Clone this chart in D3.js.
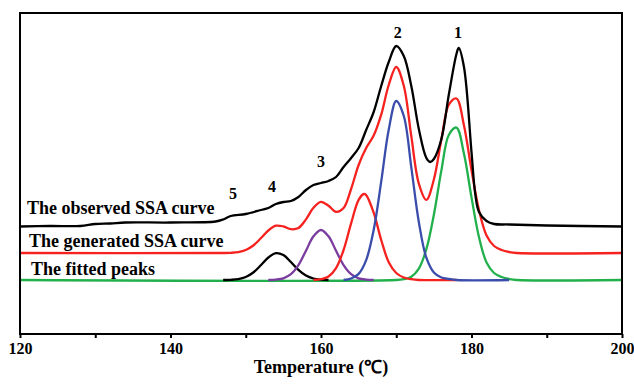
<!DOCTYPE html>
<html>
<head>
<meta charset="utf-8">
<script src="https://cdn.jsdelivr.net/npm/d3@7"></script>
<style>
  body { margin: 0; background: #fff; }
  text { font-family: "Liberation Serif", "Times New Roman", serif; font-weight: bold; fill: #000; }
</style>
</head>
<body>
<div id="chart"></div>
<script>
// temperature (°C), signal (arbitrary units)
const observed = [[120,107.5],[124,108],[128,108],[130,110],[132,110.5],[134,111.5],[140,111.5],[146,112.5],[147,114.5],[148,118],
  [150,120],[152,124],[153,126],[154,130],[155,132],[156,133],[157,137],[158,144],[159,149],[160,151],[161,153],[162,157],
  [163,167],[164,176],[165,186],[166,204],[167,222],[168,248],[169,272],[170,288],[171,278],[172,248],[173,205],[174,176],
  [174.5,172],[175,175],[176,195],[177,240],[178,280],[178.3,286],[179,267],[180,182],[180.5,140],[181,122],[182,113],
  [183,110],[185,109.5],[190,108.5],[200,107.5]]

const generated = [[120,81],[147,81],[148,81.2],[149,81.9],[150,84],[151,88.5],[152,95.7],[153,103.5],[154,108.3],[155,107.6],
  [156,104.8],[157,106],[158,114.6],[159,126.2],[160,132.2],[161,128.2],[162,122.1],[163,125.9],[164,145],[165,169],
  [166,186],[167,198.4],[168,219.3],[169,249],[170,267],[171,248.3],[172,197.8],[173,150.4],[174,134.1],[175,154.5],
  [176,194.5],[177,229.5],[178,235.5],[179,208.5],[180,164],[181,123.7],[182,98.5],[183,88],[184,84],[185,82],[186,81],[200,81]]

// fitted peaks, height above the peak baseline
const peakBase = 54
const peak1 = [[120,0],[170,0],[171,0.8],[172,3.3],[173,11.4],[174,30.8],[175,65.3],[176,109.6],[177,145.3],[178,152.4],
  [179,126.2],[180,82.6],[181,42.7],[182,17.5],[183,7],[184,3],[185,1],[186,0],[200,0]]
const peak2 = [[163,0],[164,1.5],[165,6.1],[166,19.9],[167,50],[168,98.3],[169,150.3],[170,179],[171,164],
  [172,112.7],[173,58],[174,22.3],[175,7.5],[176,2.5],[177,1],[178,0],[185,0]]
const peak3 = [[159,0],[160,0.8],[161,3.5],[162,11.9],[163,30],[164,56.6],[165,80.1],[165.7,86],[166,84.9],
  [167,67.4],[168,40],[169,17.8],[170,7],[171,2.5],[172,0.8],[173,0],[178,0]]
const peak4 = [[153,0],[154,0.4],[155,1.7],[156,5.8],[157,14.9],[158,29.2],[159,43.7],[160,50],[161,43.7],
  [162,29.2],[163,14.9],[164,5.8],[165,1.7],[166,0.4],[167,0]]
const peak5 = [[147,0],[148,0.2],[149,0.9],[150,3],[151,7.5],[152,14.7],[153,22.5],[154,26.9],[155,24.9],
  [156,18],[157,10.1],[158,4.4],[159,1.5],[160,0.4],[161,0]]

const peakLabels = [['1',178.2,38],['2',170.2,38],['3',160,167],['4',153.5,192],['5',148.3,199]]
const curveLabels = ['The observed SSA curve','The generated SSA curve','The fitted peaks']
const xTicks = [120,130,140,150,160,170,180,190,200]

const W = 634, H = 384
const plotLeft = 20, plotRight = 622, plotTop = 13, plotBottom = 334

const svg = d3.select('#chart').append('svg')
  .attr('width', W).attr('height', H)
  .attr('font-family', '"Liberation Serif", "Times New Roman", serif')

const x = d3.scaleLinear().domain([120, 200]).range([plotLeft, plotRight])
const y = d3.scaleLinear().domain([0, plotBottom - plotTop]).range([plotBottom, plotTop])

const line = d3.line()
  .x(d => x(d[0]))
  .y(d => y(d[1]))
  .curve(d3.curveCatmullRom.alpha(0.5))

const peakLine = d3.line()
  .x(d => x(d[0]))
  .y(d => y(d[1] + peakBase))
  .curve(d3.curveCatmullRom.alpha(0.5))

const peaks = [
  {data: peak1, color: '#22b04c'},
  {data: peak5, color: '#000000'},
  {data: peak4, color: '#7a3d9f'},
  {data: peak3, color: '#f5221f'},
  {data: peak2, color: '#3b4dab'}
]

svg.selectAll('.peak')
  .data(peaks)
  .enter().append('path')
  .attr('class', 'peak')
  .attr('d', d => peakLine(d.data))
  .attr('fill', 'none')
  .attr('stroke', d => d.color)
  .attr('stroke-width', 2.3)

svg.append('path')
  .attr('d', line(generated))
  .attr('fill', 'none')
  .attr('stroke', '#f5221f')
  .attr('stroke-width', 2.3)

svg.append('path')
  .attr('d', line(observed))
  .attr('fill', 'none')
  .attr('stroke', '#000')
  .attr('stroke-width', 2.3)

// frame
svg.append('rect')
  .attr('x', plotLeft).attr('y', plotTop)
  .attr('width', plotRight - plotLeft).attr('height', plotBottom - plotTop)
  .attr('fill', 'none')
  .attr('stroke', '#000')
  .attr('stroke-width', 2)

let xAxis = d3.axisBottom(x)
  .tickValues(xTicks)
  .tickSize(4)
  .tickPadding(5)
  .tickFormat(d => d % 20 === 0 ? d : '')

let gx = svg.append('g')
  .attr('transform', `translate(0, ${plotBottom})`)
  .call(xAxis)
gx.attr('font-family', null).attr('font-size', null)
gx.select('.domain').remove()
gx.selectAll('line').attr('stroke', '#000').attr('stroke-width', 2)
gx.selectAll('text')
  .style('font-weight', 'bold')
  .style('font-size', '16px')

svg.append('text')
  .attr('x', (plotLeft + plotRight) / 2)
  .attr('y', 373)
  .attr('text-anchor', 'middle')
  .style('font-size', '18px')
  .text('Temperature (℃)')

svg.selectAll('.clabel')
  .data(curveLabels)
  .enter().append('text')
  .attr('class', 'clabel')
  .attr('x', (d, i) => [27, 29, 31][i])
  .attr('y', (d, i) => [214, 247, 275][i])
  .style('font-size', '18px')
  .text(d => d)

svg.selectAll('.plabel')
  .data(peakLabels)
  .enter().append('text')
  .attr('class', 'plabel')
  .attr('x', d => x(d[1]))
  .attr('y', d => d[2])
  .attr('text-anchor', 'middle')
  .style('font-size', '16px')
  .text(d => d[0])
</script>
</body>
</html>
